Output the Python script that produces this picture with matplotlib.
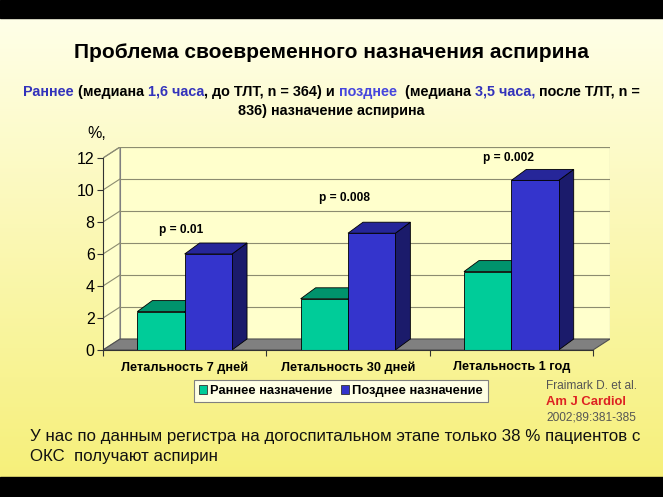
import numpy as np
import matplotlib
matplotlib.use("Agg")
from matplotlib import pyplot as plt
from matplotlib.patches import Polygon, Rectangle, Patch

plt.rcParams['font.family'] = ['Liberation Sans', 'DejaVu Sans']

# Data
CATEGORIES = ["Летальность 7 дней", "Летальность 30 дней", "Летальность 1 год"]
SERIES = ["Раннее назначение", "Позднее назначение"]
EARLY = [2.4, 3.2, 4.9]
LATE = [6.0, 7.3, 10.6]
P_VALUES = ["p = 0.01", "p = 0.008", "p = 0.002"]
Y_TICKS = [0, 2, 4, 6, 8, 10, 12]

# Layout (pixels of a 663x497 slide)
W, H = 663, 497
FRONT_LEFT, FRONT_RIGHT = 103, 593
BASE_Y, TOP_Y = 350, 158          # pixel rows of 0 and 12 on the front plane
WALL_DX_PX, WALL_DY_PX = 17, 11
BAR_DX_PX, BAR_DY_PX = 15, 11
BAR_W = 0.29

FRONT_COLORS = ["#00CC99", "#3434CC"]
TOP_COLORS = ["#00936C", "#262699"]
SIDE_COLORS = ["#007A5A", "#1B1B6B"]

px_per_cat = (FRONT_RIGHT - FRONT_LEFT) / len(CATEGORIES)
px_per_unit = (BASE_Y - TOP_Y) / Y_TICKS[-1]
wdx, wdy = WALL_DX_PX / px_per_cat, WALL_DY_PX / px_per_unit
bdx, bdy = BAR_DX_PX / px_per_cat, BAR_DY_PX / px_per_unit

fig = plt.figure(figsize=(W / 100, H / 100), dpi=100)

# background: yellow gradient with black bands
bg = fig.add_axes([0, 0, 1, 1])
grad = np.linspace(0, 1, 256)[:, None]
top_c = np.array([0.965, 0.94, 0.48])
bot_c = np.array([1.0, 1.0, 0.91])
img = top_c[None, None, :] * (1 - grad[..., None]) + bot_c[None, None, :] * grad[..., None]
img = np.repeat(img, 2, axis=1)
bg.imshow(img, extent=(0, W, H - 18, 0 + 20), aspect='auto')
bg.add_patch(Rectangle((0, H - 18), W, 18, color='black'))
bg.add_patch(Rectangle((0, 0), W, 20, color='black'))
bg.set_xlim(0, W)
bg.set_ylim(0, H)
bg.axis('off')

# chart axes
left = FRONT_LEFT / W
right = (FRONT_RIGHT + WALL_DX_PX) / W
bottom = 1 - BASE_Y / H
top = 1 - (TOP_Y - WALL_DY_PX) / H
ax = fig.add_axes([left, bottom, right - left, top - bottom])
ax.set_xlim(0, len(CATEGORIES) + wdx)
ax.set_ylim(0, Y_TICKS[-1] + wdy)
ax.patch.set_alpha(0)
ncat = len(CATEGORIES)
ymax = Y_TICKS[-1]

# walls and floor
wall_kw = dict(facecolor='#FFFFCC', edgecolor='#808080', lw=0.8, zorder=1)
ax.add_patch(Polygon([(wdx, wdy), (ncat + wdx, wdy), (ncat + wdx, ymax + wdy), (wdx, ymax + wdy)], **wall_kw))
ax.add_patch(Polygon([(0, 0), (wdx, wdy), (wdx, ymax + wdy), (0, ymax)], **wall_kw))
ax.add_patch(Polygon([(0, 0), (ncat, 0), (ncat + wdx, wdy), (wdx, wdy)],
                     facecolor='#808080', edgecolor='#505050', lw=0.8, zorder=2))
for v in Y_TICKS[1:]:
    ax.plot([wdx, ncat + wdx], [v + wdy, v + wdy], color='#8C8C70', lw=0.8, zorder=1.5)
    ax.plot([0, wdx], [v, v + wdy], color='#8C8C70', lw=0.8, zorder=1.5)

# 3d bars
for i in range(ncat):
    for j, vals in enumerate([EARLY, LATE]):
        v = vals[i]
        x0 = i + 0.5 - BAR_W + j * BAR_W
        x1 = x0 + BAR_W
        z = 3 + i * 0.1 + j * 0.03
        ax.add_patch(Polygon([(x1, 0), (x1 + bdx, bdy), (x1 + bdx, v + bdy), (x1, v)],
                             facecolor=SIDE_COLORS[j], edgecolor='black', lw=0.6, zorder=z))
        ax.add_patch(Polygon([(x0, v), (x1, v), (x1 + bdx, v + bdy), (x0 + bdx, v + bdy)],
                             facecolor=TOP_COLORS[j], edgecolor='black', lw=0.6, zorder=z + 0.01))
        ax.add_patch(Rectangle((x0, 0), BAR_W, v, facecolor=FRONT_COLORS[j],
                               edgecolor='black', lw=0.6, zorder=z + 0.02))

# p-values above the groups
P_Y = [7.5, 9.5, 12.0]
for i, p in enumerate(P_VALUES):
    ax.text(i + 0.48, P_Y[i], p, ha='center', va='center', fontsize=8.6,
            fontweight='bold', zorder=10)

# axes lines and ticks
for s in ['top', 'right']:
    ax.spines[s].set_visible(False)
ax.spines['left'].set_bounds(0, ymax)
ax.spines['bottom'].set_bounds(0, ncat)
ax.spines['left'].set_color('#333333')
ax.spines['bottom'].set_color('#333333')
ax.spines['left'].set_zorder(6)
ax.spines['bottom'].set_zorder(6)
ax.set_yticks(Y_TICKS)
ax.set_yticklabels([str(t) for t in Y_TICKS])
ax.tick_params(axis='y', length=4, direction='out', labelsize=11.5, pad=2, color='#333333')
ax.set_xticks(range(ncat + 1))
ax.set_xticklabels([])
ax.set_xticks([i + 0.5 for i in range(ncat)], minor=True)
ax.set_xticklabels(CATEGORIES, minor=True, fontsize=9.2, fontweight='bold')
ax.tick_params(axis='x', which='major', length=4, direction='out', color='#333333')
ax.tick_params(axis='x', which='minor', length=0, pad=8)
ax.text(-0.04, ymax + 1.5, "%,", ha='center', va='center', fontsize=11.5)

# legend
handles = [Patch(facecolor=c, edgecolor='#333333', lw=0.6) for c in FRONT_COLORS]
leg = fig.legend(handles, SERIES, loc='center', bbox_to_anchor=(341 / W, 1 - 391 / H),
                 ncol=2, prop={'weight': 'bold', 'size': 9.3},
                 handlelength=0.6, handleheight=0.6, handletextpad=0.3,
                 columnspacing=0.6, borderpad=0.35, fancybox=False,
                 facecolor='#FFFFE4', edgecolor='#808080', framealpha=1)
leg.get_frame().set_linewidth(0.8)

# titles
fig.text(0.5, 1 - 52 / H, "Проблема своевременного назначения аспирина",
         ha='center', va='center', fontsize=15, fontweight='bold')

BLUE = '#3333BB'
BLUE2 = '#4646DD'
line1 = [("Раннее", BLUE), (" (медиана ", 'black'), ("1,6 часа", BLUE),
         (", до ТЛТ, n = 364) и ", 'black'), ("позднее", BLUE2),
         ("  (медиана ", 'black'), ("3,5 часа,", BLUE), (" после ТЛТ, n =", 'black')]

renderer = fig.canvas.get_renderer()


def text_width(s, **kw):
    a = fig.text(0, 0, "|" + s + "|", **kw)
    b = fig.text(0, 0, "||", **kw)
    w = a.get_window_extent(renderer).width - b.get_window_extent(renderer).width
    a.remove()
    b.remove()
    return w


def colored_line(parts, y, **kw):
    widths = [text_width(s, **kw) for s, _ in parts]
    x = (W - sum(widths)) / 2
    for (s, c), w in zip(parts, widths):
        fig.text(x / W, y, s, color=c, ha='left', va='center', **kw)
        x += w


colored_line(line1, 1 - 92 / H, fontsize=10.4, fontweight='bold')
fig.text(0.5, 1 - 111 / H, "836) назначение аспирина", ha='center', va='center',
         fontsize=10.4, fontweight='bold')

# citation
fig.text(546 / W, 1 - 386 / H, "Fraimark D. et al.", fontsize=8.6, color='#555555', va='center')
fig.text(546 / W, 1 - 402 / H, "Am J Cardiol", fontsize=9.4, color='#DD2222',
         fontweight='bold', va='center')
fig.text(546 / W, 1 - 417 / H, "2002;89:381-385", fontsize=8.6, color='#555555', va='center')

# bottom note
fig.text(30 / W, 1 - 436 / H,
         "У нас по данным регистра на догоспитальном этапе только 38 % пациентов с",
         fontsize=12.2, va='center', color='#111111')
fig.text(30 / W, 1 - 456 / H, "ОКС  получают аспирин", fontsize=12.2, va='center', color='#111111')

fig.savefig("out.png", dpi=100)
